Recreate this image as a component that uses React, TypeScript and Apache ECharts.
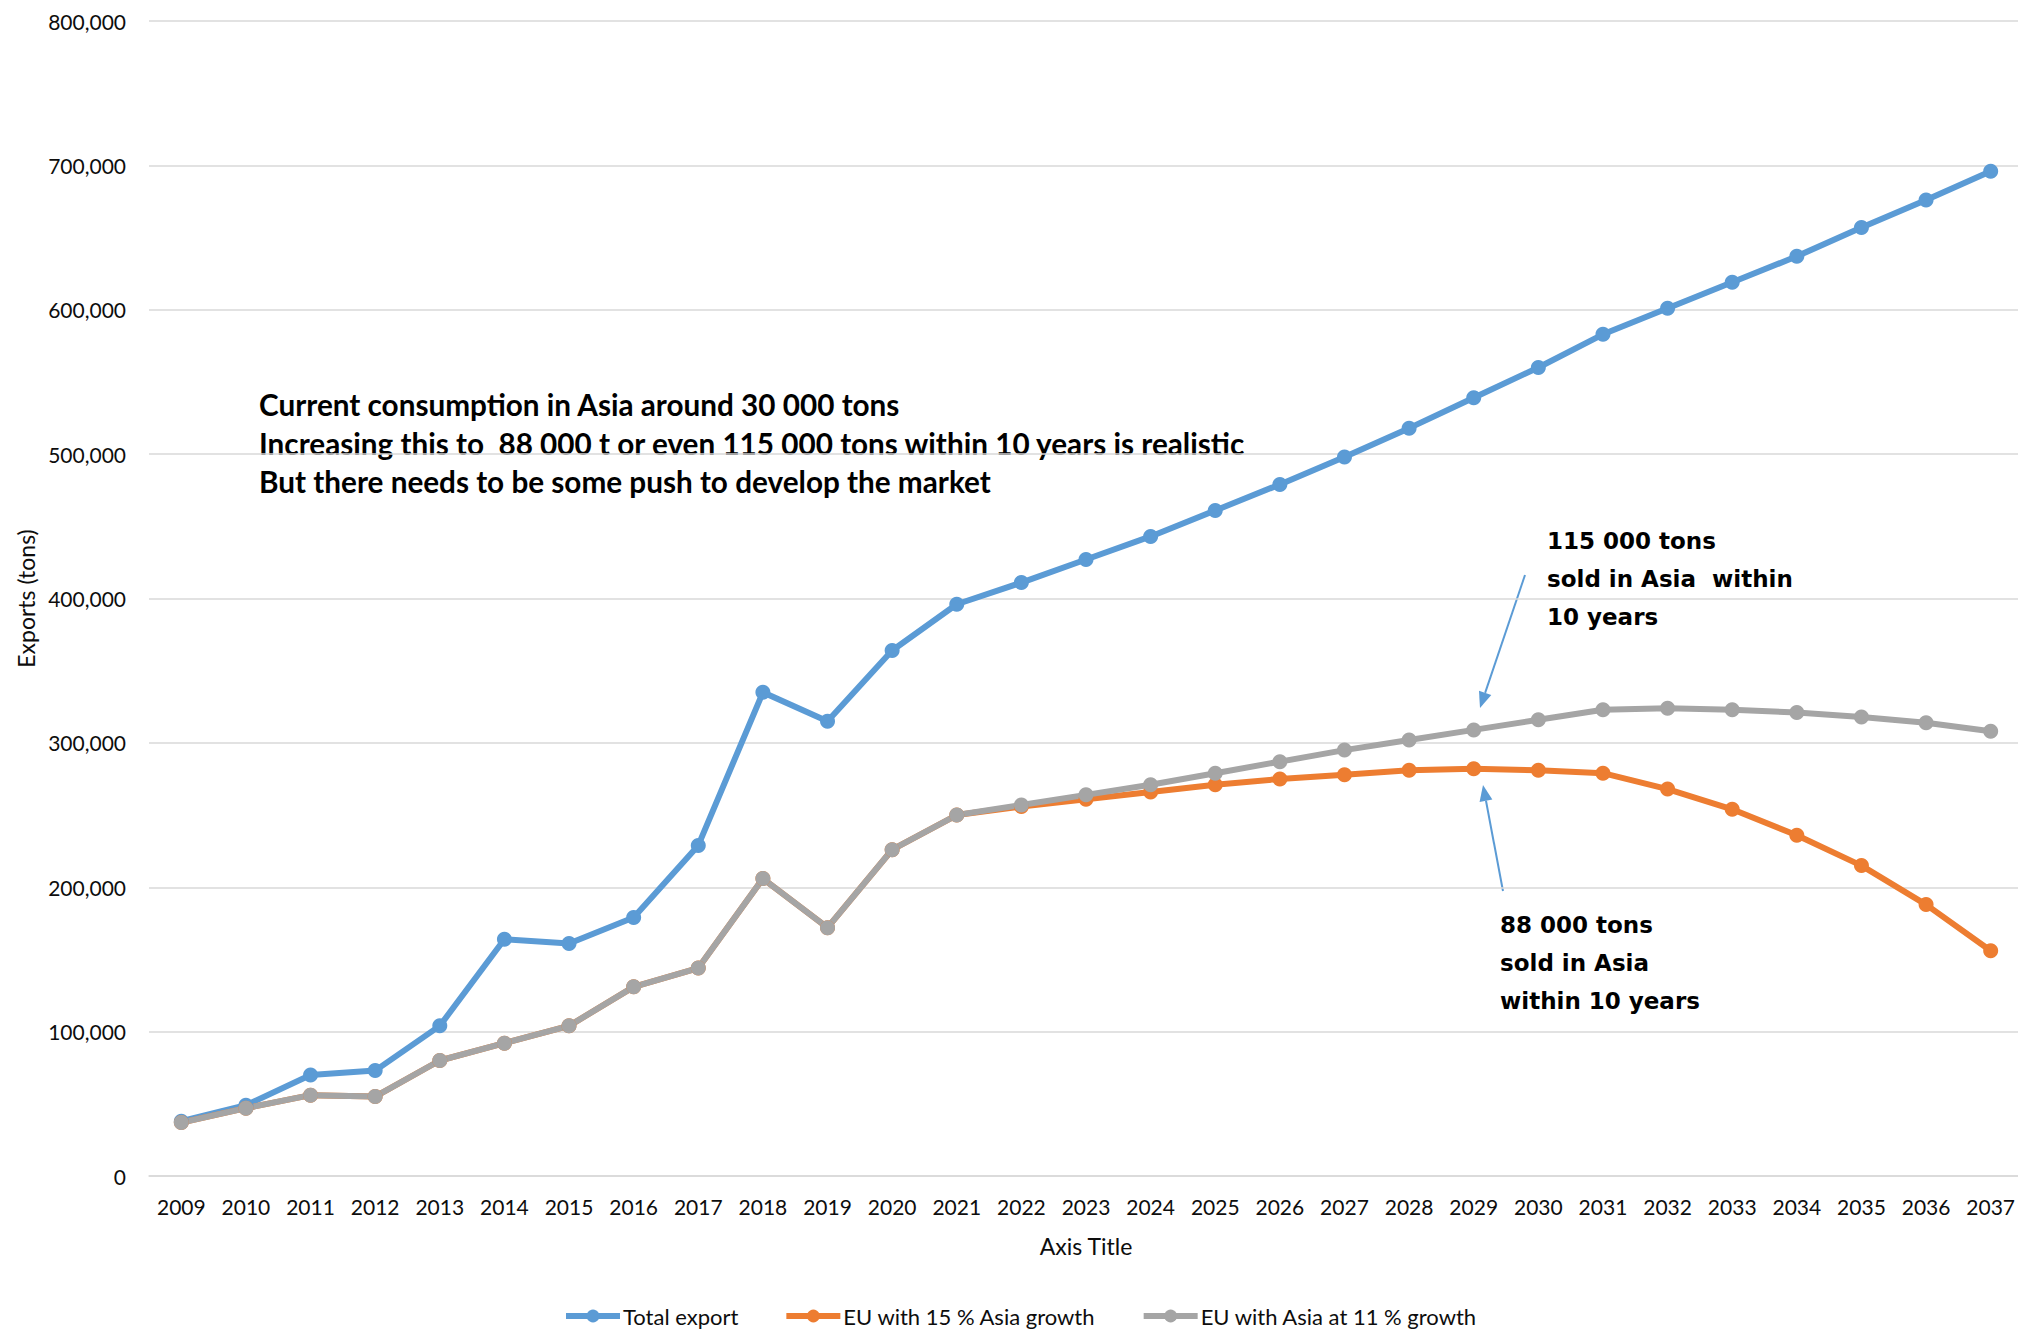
import React, { useEffect, useRef } from "react";
import * as echarts from "echarts";

const years = [
  "2009", "2010", "2011", "2012", "2013", "2014", "2015", "2016", "2017", "2018",
  "2019", "2020", "2021", "2022", "2023", "2024", "2025", "2026", "2027", "2028",
  "2029", "2030", "2031", "2032", "2033", "2034", "2035", "2036", "2037",
];

const totalExport = [
  38000, 49000, 70000, 73000, 104000, 164000, 161000, 179000, 229000, 335000,
  315000, 364000, 396000, 411000, 427000, 443000, 461000, 479000, 498000, 518000,
  539000, 560000, 583000, 601000, 619000, 637000, 657000, 676000, 696000,
];

const eu15 = [
  37000, 47000, 56000, 55000, 80000, 92000, 104000, 131000, 144000, 206000,
  172000, 226000, 250000, 256000, 261000, 266000, 271000, 275000, 278000, 281000,
  282000, 281000, 279000, 268000, 254000, 236000, 215000, 188000, 156000,
];

const eu11 = [
  37000, 47000, 56000, 55000, 80000, 92000, 104000, 131000, 144000, 206000,
  172000, 226000, 250000, 257000, 264000, 271000, 279000, 287000, 295000, 302000,
  309000, 316000, 323000, 324000, 323000, 321000, 318000, 314000, 308000,
];

const seriesNames = ["Total export", "EU with 15 % Asia growth", "EU with Asia at 11 % growth"];
const seriesColors = ["#5B9BD5", "#ED7D31", "#A5A5A5"];

const mainNote = [
  "Current consumption in Asia around 30 000 tons",
  "Increasing this to  88 000 t or even 115 000 tons within 10 years is realistic",
  "But there needs to be some push to develop the market",
];
const note115 = ["115 000 tons", "sold in Asia  within", "10 years"];
const note88 = ["88 000 tons", "sold in Asia", "within 10 years"];

const FONT = "Lato, 'Open Sans', sans-serif";
const TXT = "#0d0d0d";

function arrow(x1: number, y1: number, x2: number, y2: number) {
  const dx = x2 - x1;
  const dy = y2 - y1;
  const len = Math.sqrt(dx * dx + dy * dy);
  const ux = dx / len;
  const uy = dy / len;
  const hl = 16;
  const hw = 6.5;
  const bx = x2 - ux * hl;
  const by = y2 - uy * hl;
  const px = -uy * hw;
  const py = ux * hw;
  return [
    {
      type: "line",
      shape: { x1, y1, x2: bx, y2: by },
      style: { stroke: "#5B9BD5", lineWidth: 2 },
    },
    {
      type: "polygon",
      shape: { points: [[x2, y2], [bx + px, by + py], [bx - px, by - py]] },
      style: { fill: "#5B9BD5" },
    },
  ];
}

function textLines(lines: string[], x: number, ys: number[], font: string) {
  return lines.map((t, i) => ({
    type: "text",
    x,
    y: ys[i],
    style: {
      text: t,
      font,
      fill: "#000",
      verticalAlign: "middle",
      align: "left",
    },
  }));
}

export default function App() {
  const ref = useRef<HTMLDivElement>(null);

  useEffect(() => {
    if (!ref.current) return;
    const chart = echarts.init(ref.current, null, { renderer: "svg" });
    chart.setOption({
      animation: false,
      backgroundColor: "#fff",
      grid: { left: 149, right: 7, top: 21, bottom: 154, containLabel: false },
      legend: {
        left: 558,
        top: 1300,
        itemWidth: 54,
        itemHeight: 16,
        itemGap: 45,
        data: seriesNames,
        lineStyle: { width: 6 },
        textStyle: { fontFamily: FONT, fontSize: 22, color: TXT, padding: [0, 0, 0, -2] },
      },
      xAxis: {
        type: "category",
        data: years,
        boundaryGap: true,
        name: "Axis Title",
        nameLocation: "middle",
        nameGap: 58,
        nameTextStyle: { fontFamily: FONT, fontSize: 23, color: TXT },
        axisLine: { show: true, lineStyle: { color: "#D9D9D9", width: 1.5 } },
        axisTick: { show: false },
        axisLabel: { fontFamily: FONT, fontSize: 21, color: TXT, margin: 20 },
      },
      yAxis: {
        type: "value",
        min: 0,
        max: 800000,
        interval: 100000,
        name: "Exports (tons)",
        nameLocation: "middle",
        nameGap: 112,
        nameTextStyle: { fontFamily: FONT, fontSize: 23, color: TXT },
        axisLine: { show: false },
        axisTick: { show: false },
        splitLine: { lineStyle: { color: "#D9D9D9", width: 1.5 } },
        axisLabel: {
          fontFamily: FONT,
          fontSize: 21,
          color: TXT,
          margin: 23,
          formatter: (v: number) => v.toLocaleString("en-US"),
        },
      },
      series: [totalExport, eu15, eu11].map((d, i) => ({
        name: seriesNames[i],
        type: "line",
        data: d,
        symbol: "circle",
        symbolSize: 15,
        lineStyle: { width: 6, color: seriesColors[i] },
        itemStyle: { color: seriesColors[i] },
      })),
      graphic: [
        ...textLines(mainNote, 259, [404, 443, 481], `bold 29.7px ${FONT}`),
        ...textLines(note115, 1547, [541, 579, 617], "bold 23px 'DejaVu Sans', sans-serif"),
        ...textLines(note88, 1500, [925, 963, 1001], "bold 23px 'DejaVu Sans', sans-serif"),
        ...arrow(1525, 575, 1480, 708),
        ...arrow(1503, 891, 1483, 785),
      ],
    });
    return () => chart.dispose();
  }, []);

  return (
    <div
      style={{
        position: "fixed",
        left: 0,
        top: 0,
        width: 2018,
        height: 1330,
        overflow: "hidden",
        background: "#fff",
      }}
    >
      <div ref={ref} style={{ width: 2030, height: 1330 }} />
    </div>
  );
}
